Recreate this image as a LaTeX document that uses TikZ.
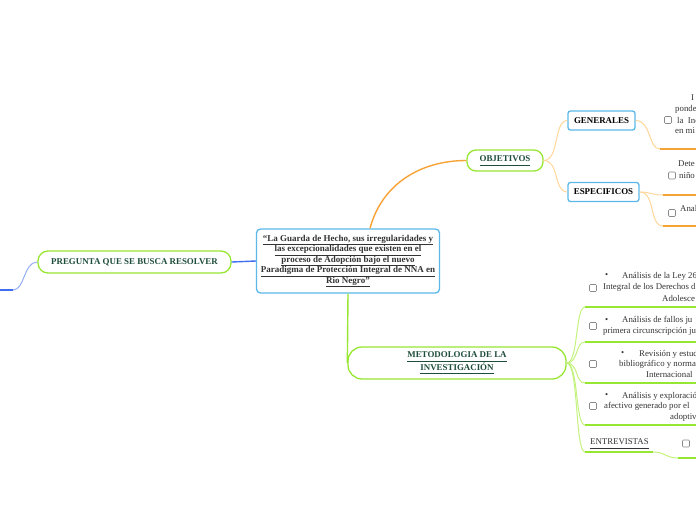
\documentclass[tikz,border=0pt]{standalone}
\usepackage{fontspec}
\setmainfont{Liberation Serif}
\definecolor{bluebox}{HTML}{5BB8E8}
\definecolor{lime}{HTML}{96E632}
\definecolor{limelight}{HTML}{C4F27E}
\definecolor{orng}{HTML}{F7A234}
\definecolor{orngl}{HTML}{FFD699}
\definecolor{blueline}{HTML}{3F6FF0}
\definecolor{bluelight}{HTML}{93AEF7}
\definecolor{dgreen}{HTML}{1E4D3B}
\definecolor{txt}{HTML}{333333}
\definecolor{chkgray}{HTML}{8A8A8A}
\newcommand{\myul}[1]{\underline{#1\vphantom{gpy}}}
\begin{document}
\begin{tikzpicture}[x=1pt,y=-1pt,
  bluenode/.style={draw=bluebox,line width=1.3pt,fill=white,rounded corners=2.5pt,inner sep=0pt,font=\fontsize{8.9}{10}\selectfont\bfseries,text=black},
  limenode/.style={draw=lime,line width=1.3pt,fill=white,inner sep=0pt,font=\fontsize{8.9}{10.4}\selectfont\bfseries,text=dgreen,align=center},
  leaf/.style={anchor=west,inner sep=0pt,font=\fontsize{8.8}{10}\selectfont,text=txt},
  chk/.style={draw=chkgray,line width=0.6pt,fill=white,rounded corners=1pt,minimum size=7pt,inner sep=0pt},
  oline/.style={draw=orng,line width=1.4pt},
  olight/.style={draw=orngl,line width=1pt},
  othick/.style={draw=orng,line width=2.2pt},
  glight/.style={draw=limelight,line width=1pt},
  gthick/.style={draw=lime,line width=2.2pt},
  bline/.style={draw=blueline,line width=1.4pt},
  blight/.style={draw=bluelight,line width=1pt},
  bthick/.style={draw=blueline,line width=2.2pt}]
\useasboundingbox (0,0) rectangle (696,520);
\begin{scope}
\clip (0,0) rectangle (696,520);

% central node
\node[bluenode,rounded corners=4pt,minimum width=183pt,minimum height=64pt,align=center,font=\fontsize{9}{10.5}\selectfont\bfseries,text=txt] (c) at (348,261)
 {\myul{“La Guarda de Hecho, sus irregularidades y}\\
  \myul{las excepcionalidades que existen en el}\\
  \myul{proceso de Adopción bajo el nuevo}\\
  \myul{Paradigma de Protección Integral de NNA en}\\
  \myul{Rio Negro”}};

% main branches
\node[limenode,rounded corners=9pt,minimum width=76pt,minimum height=21pt] (obj) at (505,160.5) {\myul{OBJETIVOS}};
\node[limenode,rounded corners=14pt,minimum width=218pt,minimum height=32pt] (met) at (457,363) {\myul{METODOLOGIA DE LA}\\\myul{INVESTIGACIÓN}};
\node[limenode,rounded corners=10pt,minimum width=193pt,minimum height=22pt] (preg) at (134.5,262) {PREGUNTA QUE SE BUSCA RESOLVER};

\node[bluenode,minimum width=67pt,minimum height=19pt] (gen) at (601.5,120.5) {GENERALES};
\node[bluenode,minimum width=71pt,minimum height=19pt] (esp) at (603.5,192) {ESPECIFICOS};

% connectors from centre
\draw[oline] ([xshift=22pt]c.north) .. controls +(12,-45) and +(-45,0) .. (obj.west);
\draw[draw=lime,line width=1.4pt] (c.south) -- (met.west);
\draw[bline] (c.west) -- (preg.east);

% pregunta branch
\coordinate (p1) at (13,290);
\coordinate (p1e) at (0,290);
\draw[blight] (preg.west) .. controls +(-14,0) and +(12,0) .. (p1);
\draw[bthick] (p1) -- (p1e);

% objetivos branches
\draw[olight] (obj.east) .. controls +(16,0) and +(-14,0) .. (gen.west);
\draw[olight] (obj.east) .. controls +(16,0) and +(-14,0) .. (esp.west);

\coordinate (g1) at (660,149); \coordinate (g1e) at (696,149);
\draw[olight] (gen.east) .. controls +(16,0) and +(-12,0) .. (g1);
\draw[othick] (g1) -- (g1e);

\coordinate (e1) at (663,195); \coordinate (e1e) at (696,195);
\coordinate (e2) at (663,226); \coordinate (e2e) at (696,226);
\draw[olight] (esp.east) .. controls +(12,0) and +(-12,0) .. (e1);
\draw[othick] (e1) -- (e1e);
\draw[olight] (esp.east) .. controls +(16,0) and +(-14,0) .. (e2);
\draw[othick] (e2) -- (e2e);

% generales leaf
\node[leaf] (gt1) at (691,98) {I};
\node[leaf] (gt2) at (675,109) {ponde};
\node[chk] (gk) at (668,120) {};
\node[leaf] (gt3) at (677,120) {la\ \ Inc};
\node[leaf] (gt4) at (675,130.5) {en mi};

% especificos leaves
\node[leaf] (et1) at (678,164) {Dete};
\node[chk] (ek1) at (672,175.5) {};
\node[leaf] (et2) at (679,175.5) {niño};
\node[chk] (ek2) at (672,213) {};
\node[leaf] (et3) at (680,208) {Anal};

% metodologia branches
\coordinate (m1) at (585,307); \coordinate (m1e) at (696,307);
\coordinate (m2) at (585,342); \coordinate (m2e) at (696,342);
\coordinate (m3) at (585,383); \coordinate (m3e) at (696,383);
\coordinate (m4) at (585,425); \coordinate (m4e) at (696,425);
\coordinate (m5) at (585,452); \coordinate (m5b) at (653,452);
\coordinate (m5c) at (678,458); \coordinate (m5e) at (696,458);
\foreach \m in {m1,m2,m3,m4,m5}
  \draw[glight] (met.east) .. controls +(12,0) and +(-10,0) .. (\m);
\draw[gthick] (m1) -- (m1e);
\draw[gthick] (m2) -- (m2e);
\draw[gthick] (m3) -- (m3e);
\draw[gthick] (m4) -- (m4e);
\draw[gthick] (m5) -- (m5b);
\draw[glight] (m5b) .. controls +(12,0) and +(-12,0) .. (m5c);
\draw[gthick] (m5c) -- (m5e);

% leaf 1
\node[leaf] (b1) at (605,276) {•};
\node[leaf] (t11) at (622,276) {Análisis de la Ley 26};
\node[chk] (k1) at (593,288) {};
\node[leaf] (t12) at (603,287.5) {Integral de los Derechos d};
\node[leaf] (t13) at (662,298) {Adolesce};
% leaf 2
\node[leaf] (b2) at (605,320.5) {•};
\node[leaf] (t21) at (622,320.5) {Análisis de fallos ju};
\node[chk] (k2) at (593,326) {};
\node[leaf] (t22) at (603,331.5) {primera circunscripción ju};
% leaf 3
\node[leaf] (b3) at (621,354) {•};
\node[leaf] (t31) at (639,354) {Revisión y estud};
\node[chk] (k3) at (593,364) {};
\node[leaf] (t32) at (619,364.5) {bibliográfico y norma};
\node[leaf] (t33) at (646,374.5) {Internacional};
% leaf 4
\node[leaf] (b4) at (605,396) {•};
\node[leaf] (t41) at (622,396) {Análisis y exploració};
\node[chk] (k4) at (593,406) {};
\node[leaf] (t42) at (604,406.5) {afectivo generado por el};
\node[leaf] (t43) at (670,417) {adoptiv};
% leaf 5
\node[leaf] (t5) at (590,443.5) {\myul{ENTREVISTAS}};
\node[chk] (k5) at (686,443.5) {};
\end{scope}
\end{tikzpicture}
\end{document}
